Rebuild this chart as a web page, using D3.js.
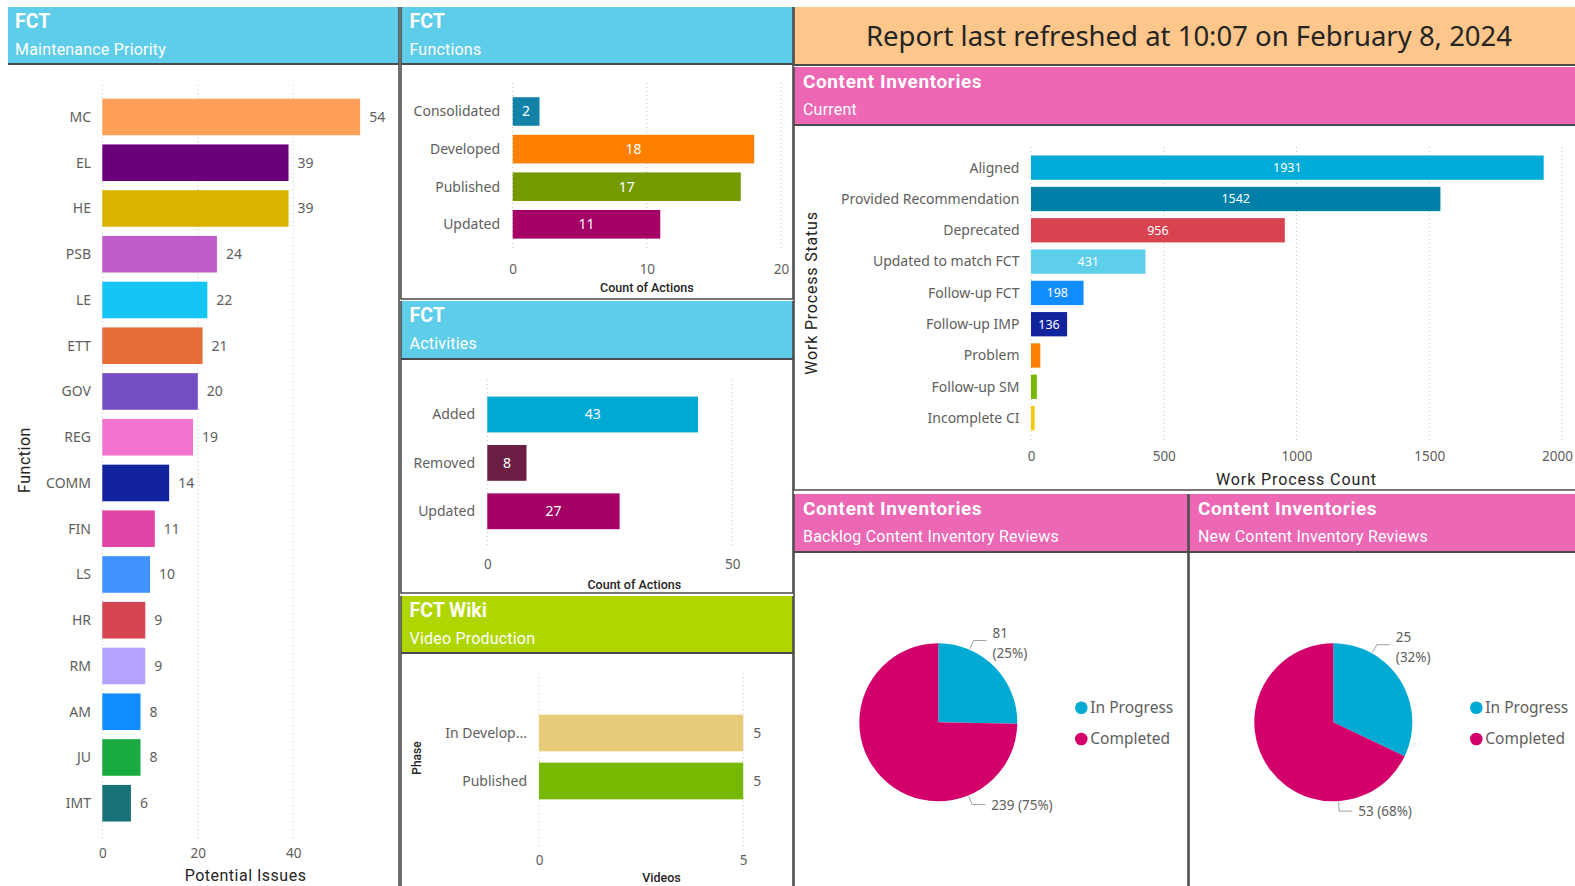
<!DOCTYPE html>
<html>
<head>
<meta charset="utf-8">
<script src="https://cdn.jsdelivr.net/npm/d3@7"></script>
<style>
  body { margin: 0; background: #fff; }
  svg { display: block; }
  .lbl { font-family: "Noto Sans", sans-serif; fill: #605e5c; }
  .hdr { font-family: Roboto, sans-serif; fill: #fff; }
  .ttl { font-family: Roboto, sans-serif; fill: #252423; }
</style>
</head>
<body>
<script>
// ---- data ----
var priorityCats = ["MC","EL","HE","PSB","LE","ETT","GOV","REG","COMM","FIN","LS","HR","RM","AM","JU","IMT"];
var priorityVals = [54,39,39,24,22,21,20,19,14,11,10,9,9,8,8,6];
var priorityColors = ["#ffa058","#6b007b","#d9b300","#be5dc9","#15c6f4","#e66c37","#744ec2","#f472d0",
                      "#12239e","#e044a7","#4092ff","#d64550","#b5a1ff","#118dff","#1aab40","#197278"];
var priorityTicks = [0,20,40];

var functionCats = ["Consolidated","Developed","Published","Updated"];
var functionVals = [2,18,17,11];
var functionColors = ["#1382a9","#ff7f00","#759a00","#a50066"];
var functionTicks = [0,10,20];

var activityCats = ["Added","Removed","Updated"];
var activityVals = [43,8,27];
var activityColors = ["#00a9d4","#6b1f45","#a50066"];
var activityTicks = [0,50];

var videoCats = ["In Develop...","Published"];
var videoVals = [5,5];
var videoColors = ["#e8cc7a","#76b900"];
var videoTicks = [0,5];

var statusCats = ["Aligned","Provided Recommendation","Deprecated","Updated to match FCT","Follow-up FCT",
                  "Follow-up IMP","Problem","Follow-up SM","Incomplete CI"];
var statusVals = [1931,1542,956,431,198,136,35,22,14];
var statusColors = ["#00acd7","#0080a8","#d9434f","#5ecfea","#118dff","#12239e","#ff7f00","#76b900","#f2c80f"];
var statusTicks = [0,500,1000,1500,2000];

var pieCats = ["In Progress","Completed"];
var pieColors = ["#01aad3","#d3006c"];
var backlogVals = [81,239];
var newReviewVals = [25,53];

// ---- page ----
var W = 1575, H = 886;
var svg = d3.select("body").append("svg").attr("width", W).attr("height", H);

var panels = [
  {x:8,   y:7,   w:391, h:879, hh:57, fill:"#5ecde9", title:"FCT", sub:"Maintenance Priority", ts:19.5, pad:7, noLeft:true},
  {x:401, y:7,   w:392, h:292, hh:57, fill:"#5ecde9", title:"FCT", sub:"Functions", ts:19.5, pad:8.5},
  {x:401, y:301, w:392, h:292, hh:58, fill:"#5ecde9", title:"FCT", sub:"Activities", ts:19.5, pad:8.5},
  {x:401, y:596, w:392, h:292, hh:57, fill:"#b0d600", title:"FCT Wiki", sub:"Video Production", ts:19.5, pad:8.5},
  {x:794, y:7,   w:783, h:58,  hh:58, fill:"#fdc68a"},
  {x:794, y:67,  w:783, h:423, hh:58, fill:"#ec67b4", title:"Content Inventories", sub:"Current", ts:19, ls:0.6, pad:9},
  {x:794, y:494, w:394, h:394, hh:58, fill:"#ec67b4", title:"Content Inventories", sub:"Backlog Content Inventory Reviews", ts:19, ls:0.6, pad:9},
  {x:1189,y:494, w:388, h:394, hh:58, fill:"#ec67b4", title:"Content Inventories", sub:"New Content Inventory Reviews", ts:19, ls:0.6, pad:9}
];

panels.forEach(function(p) {
  svg.append("rect").attr("x", p.x).attr("y", p.y).attr("width", p.w).attr("height", p.hh).attr("fill", p.fill);
  var path = p.noLeft
    ? "M" + (p.x + p.w) + "," + p.y + "V" + (p.y + p.h)
    : "M" + p.x + "," + p.y + "V" + (p.y + p.h) + "H" + (p.x + p.w) + "V" + p.y;
  svg.append("path").attr("d", path).attr("fill", "none").attr("stroke", "#4b4b4b").attr("stroke-width", 1.6);
  svg.append("line").attr("x1", p.x).attr("x2", p.x + p.w).attr("y1", p.y + p.hh).attr("y2", p.y + p.hh)
    .attr("stroke", "#4b4b4b").attr("stroke-width", 1.8);
  if (p.title) {
    svg.append("text").attr("class", "hdr").attr("x", p.x + p.pad).attr("y", p.y + 21)
      .style("font-size", p.ts + "px").style("font-weight", 700).style("letter-spacing", (p.ls || 0) + "px")
      .text(p.title);
    svg.append("text").attr("class", "hdr").attr("x", p.x + p.pad).attr("y", p.y + 48)
      .style("font-size", "16px").style("letter-spacing", "0.2px").text(p.sub);
  }
});

svg.append("text").attr("class", "ttl").attr("x", 1189).attr("y", 46).attr("text-anchor", "middle")
  .style("font-family", "'Noto Sans', sans-serif").style("font-size", "27.5px")
  .text("Report last refreshed at 10:07 on February 8, 2024");

// ---- horizontal bar charts ----
function barChart(o) {
  var g = svg.append("g");
  var x = d3.scaleLinear().domain(o.domain).range(o.xRange);
  var y = d3.scaleBand().domain(o.cats).range(o.yRange).paddingInner(o.pad).paddingOuter(o.pad / 2);

  g.selectAll(".grid").data(o.ticks).join("line").attr("class", "grid")
    .attr("x1", function(d) { return x(d); }).attr("x2", function(d) { return x(d); })
    .attr("y1", o.gridY[0]).attr("y2", o.gridY[1])
    .attr("stroke", "#c8c6c4").attr("stroke-dasharray", "1,3");

  var ax = g.append("g").attr("transform", "translate(0," + o.tickY + ")")
    .call(d3.axisBottom(x).tickValues(o.ticks).tickFormat(d3.format("d")).tickSize(0).tickPadding(0));
  ax.select(".domain").remove();
  ax.selectAll("text").attr("class", "lbl").attr("dy", "0.35em").style("font-size", "13.5px");
  if (o.lastTickShift) {
    ax.selectAll(".tick:last-of-type text").attr("dx", o.lastTickShift);
  }

  var ay = g.append("g").attr("transform", "translate(" + o.labelX + ",0)")
    .call(d3.axisLeft(y).tickSize(0).tickPadding(0));
  ay.select(".domain").remove();
  ay.selectAll("text").attr("class", "lbl").attr("dy", "0.35em").style("font-size", o.catSize || "14px");

  g.selectAll(".bar").data(o.vals).join("rect").attr("class", "bar")
    .attr("x", x(0)).attr("y", function(d, i) { return y(o.cats[i]); })
    .attr("width", function(d) { return x(d) - x(0); }).attr("height", y.bandwidth())
    .attr("fill", function(d, i) { return o.colors[i]; });

  var lab = g.selectAll(".val").data(o.vals).join("text").attr("class", "lbl")
    .attr("y", function(d, i) { return y(o.cats[i]) + y.bandwidth() / 2; })
    .attr("dy", "0.35em").style("font-size", o.valSize || "14px")
    .text(function(d) { return d; });
  if (o.inside) {
    lab.attr("x", function(d) { return (x(0) + x(d)) / 2; }).attr("text-anchor", "middle")
      .style("fill", "#fff")
      .style("display", function(d) { return x(d) - x(0) < 20 ? "none" : null; });
  } else {
    lab.attr("x", function(d) { return x(d) + o.valGap; });
  }

  if (o.xTitle) {
    g.append("text").attr("class", "ttl").attr("x", (o.xRange[0] + o.xRange[1]) / 2).attr("y", o.xTitle.y)
      .attr("text-anchor", "middle").style("font-size", o.xTitle.size)
      .style("font-weight", o.xTitle.weight || 400).style("letter-spacing", o.xTitle.ls || "0px")
      .text(o.xTitle.text);
  }
  if (o.yTitle) {
    g.append("text").attr("class", "ttl")
      .attr("transform", "translate(" + o.yTitle.x + "," + o.yTitle.y + ") rotate(-90)")
      .attr("text-anchor", "middle").style("font-size", o.yTitle.size)
      .style("font-weight", o.yTitle.weight || 400).style("letter-spacing", o.yTitle.ls || "0px")
      .text(o.yTitle.text);
  }
}

barChart({
  cats: priorityCats, vals: priorityVals, colors: priorityColors, ticks: priorityTicks,
  domain: [0, 60], xRange: [102.3, 388.8], yRange: [94.1, 826.1], pad: 0.2,
  gridY: [85, 840], tickY: 853, labelX: 91, valGap: 9,
  xTitle: {text: "Potential Issues", y: 881, size: "16px", ls: "0.5px"},
  yTitle: {text: "Function", x: 30, y: 460, size: "16px", ls: "0.5px"}
});

barChart({
  cats: functionCats, vals: functionVals, colors: functionColors, ticks: functionTicks,
  domain: [0, 20], xRange: [512.7, 781], yRange: [92.7, 243.1], pad: 0.24,
  gridY: [83, 250], tickY: 269, labelX: 500, inside: true,
  xTitle: {text: "Count of Actions", y: 292, size: "12.5px", weight: 500}
});

barChart({
  cats: activityCats, vals: activityVals, colors: activityColors, ticks: activityTicks,
  domain: [0, 60], xRange: [487.3, 781.3], yRange: [390.3, 535.5], pad: 0.26,
  gridY: [380, 545], tickY: 564, labelX: 475, inside: true,
  xTitle: {text: "Count of Actions", y: 589, size: "12.5px", weight: 500}
});

barChart({
  cats: videoCats, vals: videoVals, colors: videoColors, ticks: videoTicks,
  domain: [0, 6], xRange: [539, 784], yRange: [709, 805], pad: 0.235,
  gridY: [673, 848], tickY: 860, labelX: 527, valGap: 10,
  xTitle: {text: "Videos", y: 882, size: "12.5px", weight: 500},
  yTitle: {text: "Phase", x: 421, y: 758, size: "12px", weight: 500}
});

barChart({
  cats: statusCats, vals: statusVals, colors: statusColors, ticks: statusTicks,
  domain: [0, 2000], xRange: [1031, 1562], yRange: [152, 433.8], pad: 0.224,
  gridY: [147, 443], tickY: 456, labelX: 1019.5, inside: true, valSize: "12.5px", lastTickShift: -5,
  xTitle: {text: "Work Process Count", y: 485, size: "16px", ls: "0.9px"},
  yTitle: {text: "Work Process Status", x: 817, y: 293, size: "16px", ls: "0.8px"}
});

// ---- pies ----
function pieChart(o) {
  var r = 79;
  var arcs = d3.pie().sort(null)(o.vals);
  var arc = d3.arc().innerRadius(0).outerRadius(r);
  var total = d3.sum(o.vals);
  var pct = d3.format(".0%");
  var g = svg.append("g").attr("transform", "translate(" + o.cx + "," + o.cy + ")");

  g.selectAll("path").data(arcs).join("path").attr("d", arc)
    .attr("fill", function(d, i) { return pieColors[i]; });

  arcs.forEach(function(d, i) {
    var a = o.labelAngles[i] * Math.PI / 180;
    var p0 = [Math.sin(a) * (r + 1), -Math.cos(a) * (r + 1)];
    var p1 = [Math.sin(a) * (r + 10), -Math.cos(a) * (r + 10)];
    var p2 = [p1[0] + 13, p1[1]];
    g.append("path").attr("d", "M" + p0 + "L" + p1 + "L" + p2)
      .attr("fill", "none").attr("stroke", "#a19f9d").attr("stroke-width", 1);
    var t = g.append("text").attr("class", "lbl").style("font-size", "13.5px").attr("x", p2[0] + 6);
    if (Math.cos(a) > 0) {
      t.append("tspan").attr("x", p2[0] + 6).attr("y", p1[1] - 3).text(d.data);
      t.append("tspan").attr("x", p2[0] + 6).attr("y", p1[1] + 17).text("(" + pct(d.data / total) + ")");
    } else {
      t.attr("y", p1[1] + 5).text(d.data + " (" + pct(d.data / total) + ")");
    }
  });

  var lg = g.selectAll(".leg").data(pieCats).join("g")
    .attr("transform", function(d, i) { return "translate(143," + (i * 31.3 - 14.6) + ")"; });
  lg.append("circle").attr("r", 6.3).attr("fill", function(d, i) { return pieColors[i]; });
  lg.append("text").attr("class", "lbl").attr("x", 9).attr("dy", "0.35em")
    .style("font-size", "15.5px").text(function(d) { return d; });
}

pieChart({vals: backlogVals, cx: 938.3, cy: 722.3, labelAngles: [23.3, 157.6]});
pieChart({vals: newReviewVals, cx: 1333.3, cy: 722.3, labelAngles: [29.3, 176.2]});
</script>
</body>
</html>
